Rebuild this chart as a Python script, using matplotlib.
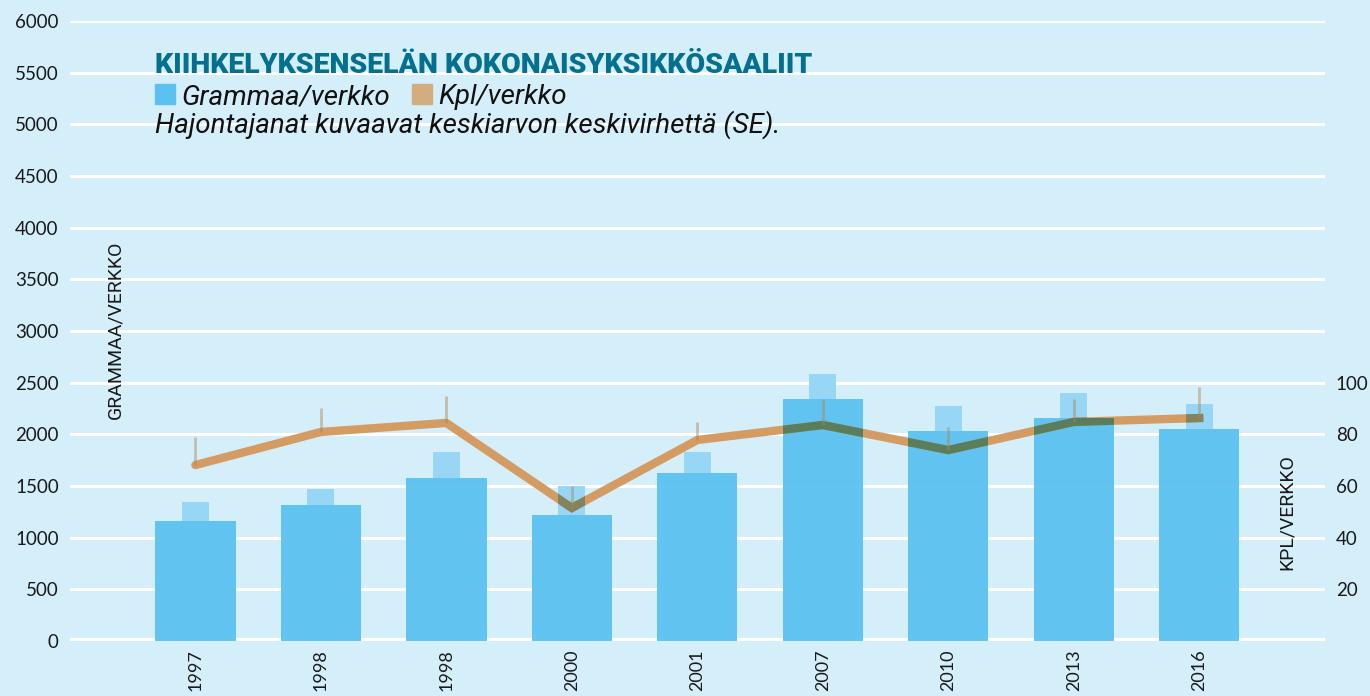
import numpy as np
import matplotlib
matplotlib.use("Agg")
import matplotlib.pyplot as plt
from matplotlib.patches import Rectangle

# data
years = ["1997", "1998", "1998", "2000", "2001", "2007", "2010", "2013", "2016"]
grams = [1162, 1316, 1578, 1220, 1626, 2343, 2033, 2159, 2052]
grams_se = [183, 155, 252, 280, 204, 242, 242, 241, 242]
kpl = [68.1, 80.9, 84.4, 51.5, 77.8, 83.6, 73.9, 84.8, 86.3]
kpl_se = [11.0, 9.3, 10.4, 8.5, 7.0, 10.0, 9.0, 9.0, 12.0]

BG = "#d4eefa"
BAR = "#5bc1f0"
BAR_SE = "#98d6f5"
LINE = "#d49c62"
LINE_ON_BAR = "#5a7d5c"
LINE_ON_SE = "#83845e"
TITLE = "#03708f"
NARROW = ["Liberation Sans Narrow", "Roboto", "DejaVu Sans"]

fig = plt.figure(figsize=(13.7, 6.96), dpi=100, facecolor=BG)
ax = fig.add_axes([0.051, 0.079, 0.916, 0.891])
ax.set_facecolor(BG)
x = np.arange(len(years))

for y in range(500, 6001, 500):
    ax.axhline(y, color="white", lw=2.2, zorder=1)
ax.axhline(0, color="white", lw=4.5, zorder=1)

bars = ax.bar(x, grams, width=0.64, color=BAR, alpha=0.95, zorder=2, linewidth=0)
se_rects = ax.bar(x, grams_se, bottom=grams, width=0.215, color=BAR_SE,
                  zorder=2, linewidth=0)

ax.set_xlim(-1, 9)
ax.set_ylim(0, 6000)
ax.set_yticks(range(0, 6001, 500))
ax.set_xticks(x)
ax.set_xticklabels(years, rotation=90, fontsize=13, family="Lato")
ax.tick_params(axis="x", length=0, pad=6, labelcolor="#1a1a1a")
ax.tick_params(axis="y", length=0, pad=8, labelcolor="#1a1a1a")
for lab in ax.get_yticklabels():
    lab.set_fontsize(13.5)
    lab.set_family("Lato")
for s in ax.spines.values():
    s.set_visible(False)

ax2 = ax.twinx()
ax2.set_ylim(0, 240)
ax2.set_yticks([20, 40, 60, 80, 100])
ax2.tick_params(length=0, pad=8, labelcolor="#1a1a1a")
for lab in ax2.get_yticklabels():
    lab.set_fontsize(13.5)
    lab.set_family("Lato")
for s in ax2.spines.values():
    s.set_visible(False)

ax2.plot(x, kpl, color=LINE, lw=6, solid_capstyle="round",
         solid_joinstyle="miter", zorder=3)
# darker look where the line crosses the bars
for r in se_rects:
    ln, = ax2.plot(x, kpl, color=LINE_ON_SE, lw=6, solid_joinstyle="miter", zorder=4)
    ln.set_clip_path(r)
for r in bars:
    ln, = ax2.plot(x, kpl, color=LINE_ON_BAR, lw=6, solid_joinstyle="miter", zorder=4)
    ln.set_clip_path(r)
ax2.vlines(x, kpl, np.array(kpl) + np.array(kpl_se), color="#a9854f",
           alpha=0.45, lw=2, zorder=5)

fig.text(115 / 1370, 1 - 330 / 696, "GRAMMAA/VERKKO", rotation=90, ha="center",
         va="center", fontsize=14, family=NARROW, color="#1a1a1a")
fig.text(1287 / 1370, 1 - 512 / 696, "KPL/VERKKO", rotation=90, ha="center",
         va="center", fontsize=14, family=NARROW, color="#1a1a1a")

fig.text(0.113, 1 - 73 / 696, "KIIHKELYKSENSELÄN KOKONAISYKSIKKÖSAALIIT",
         fontsize=20.5, fontweight="black", family=NARROW, color=TITLE, va="baseline")
fig.patches.append(Rectangle((155 / 1370, 1 - 104 / 696), 20 / 1370, 20 / 696,
                             transform=fig.transFigure, color=BAR, figure=fig))
fig.text(181 / 1370, 1 - 104 / 696, "Grammaa/verkko", fontsize=20, style="italic",
         family=NARROW, color="#111111", va="baseline")
fig.patches.append(Rectangle((412 / 1370, 1 - 104 / 696), 20 / 1370, 20 / 696,
                             transform=fig.transFigure, color="#d4ad7f", figure=fig))
fig.text(438 / 1370, 1 - 104 / 696, "Kpl/verkko", fontsize=20, style="italic",
         family=NARROW, color="#111111", va="baseline")
fig.text(0.113, 1 - 133 / 696, "Hajontajanat kuvaavat keskiarvon keskivirhettä (SE).",
         fontsize=20, style="italic", family=NARROW, color="#111111", va="baseline")

fig.savefig("out.png", dpi=100, facecolor=BG)
